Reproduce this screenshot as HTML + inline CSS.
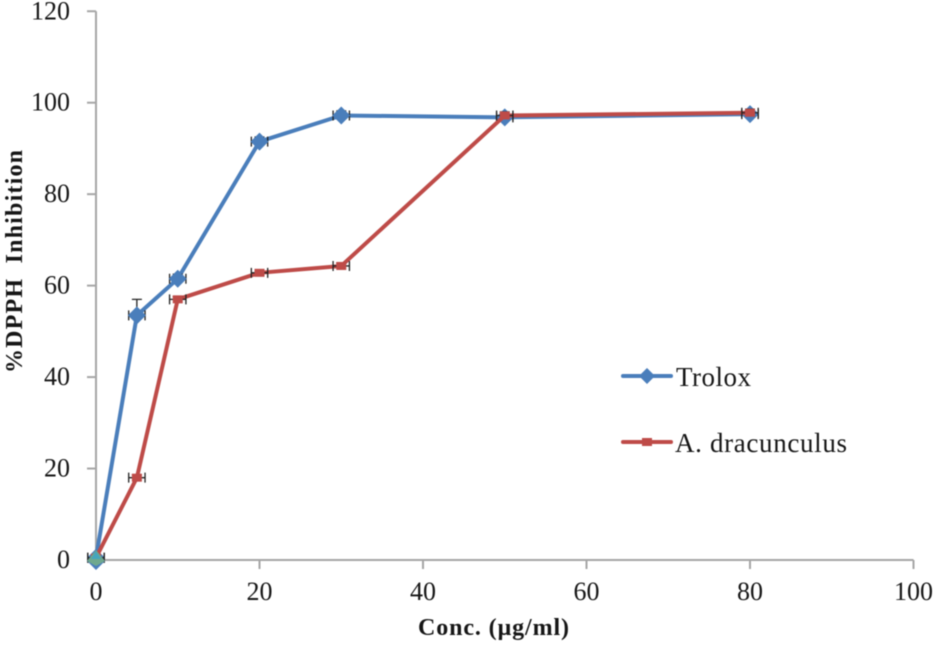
<!DOCTYPE html>
<html lang="en">
<head>
<meta charset="utf-8">
<title>%DPPH Inhibition vs Concentration</title>
<style>
html,body{margin:0;padding:0;background:#fff}
svg{display:block;filter:blur(0.4px)}
text{font-family:"Liberation Serif",serif;fill:#161616}
</style>
</head>
<body>
<svg id="chart" width="937" height="646" viewBox="0 0 937 646" xmlns="http://www.w3.org/2000/svg"></svg>
<script>
const concentrations = [0, 5, 10, 20, 30, 50, 80];
const troloxValues = [0.5, 53.5, 61.5, 91.5, 97.2, 96.8, 97.5];
const dracunculusValues = [0.5, 18, 57, 62.8, 64.3, 97.2, 97.8];
const troloxErrors = [0.5, 3.5, 1, 1, 1, 0.8, 1];
const dracunculusErrors = [0.5, 0.6, 0.6, 0.6, 0.6, 0.8, 0.8];
const horizontalError = 1;
const xTicks = [0, 20, 40, 60, 80, 100];
const yTicks = [0, 20, 40, 60, 80, 100, 120];

const NS = 'http://www.w3.org/2000/svg';
const svg = document.getElementById('chart');
const xAt = v => 96 + v * 8.175;
const yAt = v => 560 - v * 4.573;

function add(tag, attrs, parent) {
  const el = document.createElementNS(NS, tag);
  for (const k in attrs) el.setAttribute(k, attrs[k]);
  (parent || svg).appendChild(el);
  return el;
}

// Axes
const axisStroke = { stroke: '#a6a6a6', 'stroke-width': 2 };
const yAxis = add('line', Object.assign({ x1: xAt(0), y1: yAt(120), x2: xAt(0), y2: yAt(0) }, axisStroke));


const xAxis = add('line', Object.assign({ x1: xAt(0), y1: yAt(0), x2: xAt(100), y2: yAt(0) }, axisStroke));



yTicks.forEach(t => {
  const tick = add('line', Object.assign({ x1: xAt(0) - 9, y1: yAt(t), x2: xAt(0), y2: yAt(t) }, axisStroke));
  
  
  const label = add('text', { x: 70, y: yAt(t) + 8, 'text-anchor': 'end', 'font-size': 26 });
  label.textContent = t;
  
  
});
xTicks.forEach(t => {
  const tick = add('line', Object.assign({ x1: xAt(t), y1: yAt(0), x2: xAt(t), y2: yAt(0) + 9 }, axisStroke));
  
  
  const label = add('text', { x: xAt(t), y: 600, 'text-anchor': 'middle', 'font-size': 26 });
  label.textContent = t;
  
  
});

function diamond(cx, cy, r, fill, parent) {
  return add('polygon', { points: `${cx},${cy - r} ${cx + r},${cy} ${cx},${cy + r} ${cx - r},${cy}`, fill }, parent);
}

function drawSeries(name, values, errors, color, drawMarker) {
  const group = add('g', {});
  
  
  const pts = concentrations.map((c, i) => `${xAt(c)},${yAt(values[i])}`).join(' ');
  const line = add('polyline', { points: pts, fill: 'none', stroke: color, 'stroke-width': 4, 'stroke-linejoin': 'round' }, group);
  
  
  concentrations.forEach((c, i) => {
    const x = xAt(c), y = yAt(values[i]);
    const eb = add('path', {
      d: `M${xAt(c - horizontalError)},${y}H${xAt(c + horizontalError)}` +
         `M${xAt(c - horizontalError)},${y - 5}v10M${xAt(c + horizontalError)},${y - 5}v10` +
         `M${x},${yAt(values[i] + errors[i])}V${y}` +
         `M${x - 5},${yAt(values[i] + errors[i])}h10`,
      fill: 'none', stroke: '#222', 'stroke-width': 1.3
    }, group);
    
    
    const m = drawMarker(x, y, group);
    
    
  });
}

drawSeries('trolox', troloxValues, troloxErrors, '#4a7ebb',
  (x, y, g) => diamond(x, y, 9, '#4a7ebb', g));
drawSeries('a-dracunculus', dracunculusValues, dracunculusErrors, '#be4b48',
  (x, y, g) => add('rect', { x: x - 5, y: y - 4, width: 10, height: 8, fill: '#be4b48' }, g));

// Overlapping markers at the origin
const originBlue = diamond(xAt(0), yAt(0) + 1, 9, '#4a7ebb');


const originGreen = add('polygon', {
  points: `${xAt(0)},${yAt(0) - 10} ${xAt(0) + 9},${yAt(0) + 1} ${xAt(0)},${yAt(0) + 6} ${xAt(0) - 9},${yAt(0) + 1}`,
  fill: '#6fa88e'
});


const originTeal = add('polygon', {
  points: `${xAt(0)},${yAt(0) - 9} ${xAt(0) + 5},${yAt(0) - 1} ${xAt(0) - 5},${yAt(0) - 1}`,
  fill: '#45a5bd'
});



// Axis titles
const xTitle = add('text', { x: 418, y: 635, 'font-size': 24, 'font-weight': 'bold', textLength: 151, lengthAdjust: 'spacing' });
xTitle.textContent = 'Conc. (µg/ml)';


const yTitle = add('text', { transform: 'translate(22,373) rotate(-90)', 'font-size': 24, 'font-weight': 'bold', textLength: 223, lengthAdjust: 'spacing', style: 'white-space:pre' });
yTitle.textContent = '%DPPH  Inhibition';



// Legend
const legend = add('g', {});


const trEntry = add('g', {}, legend);


add('line', { x1: 623, y1: 376, x2: 671, y2: 376, stroke: '#4a7ebb', 'stroke-width': 4, 'stroke-linecap': 'round' }, trEntry);
diamond(647, 376, 8, '#4a7ebb', trEntry);
const trLabel = add('text', { x: 676, y: 386, 'font-size': 27, textLength: 75, lengthAdjust: 'spacing' }, trEntry);
trLabel.textContent = 'Trolox';
const drEntry = add('g', {}, legend);


add('line', { x1: 623, y1: 442, x2: 671, y2: 442, stroke: '#be4b48', 'stroke-width': 4, 'stroke-linecap': 'round' }, drEntry);
add('rect', { x: 642, y: 438, width: 10, height: 8, fill: '#be4b48' }, drEntry);
const drLabel = add('text', { x: 675, y: 452, 'font-size': 27, textLength: 172, lengthAdjust: 'spacing' }, drEntry);
drLabel.textContent = 'A. dracunculus';
</script>
</body>
</html>
